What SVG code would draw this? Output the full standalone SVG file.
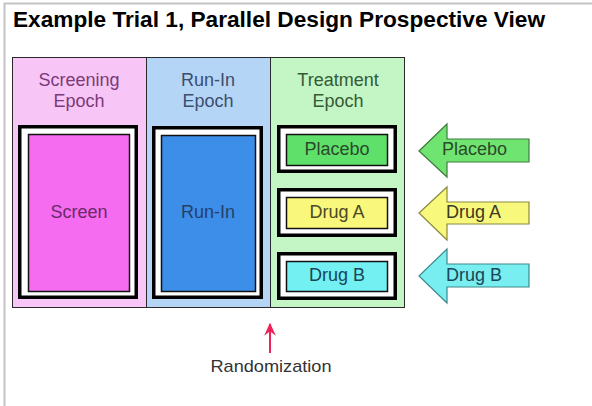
<svg xmlns="http://www.w3.org/2000/svg" width="592" height="406" viewBox="0 0 592 406">
<defs>
<style>
text{font-family:"Liberation Sans",Arial,sans-serif;}
.title{font-size:22px;font-weight:bold;fill:#000;}
.hdr{font-size:18px;text-anchor:middle;}
.lbl{font-size:18px;text-anchor:middle;}
.alb{font-size:18px;}
.col{stroke:#2a2a2a;stroke-width:1;}
.outer{fill:#fff;stroke:#000;stroke-width:3.5;}
.inner{stroke:#111;stroke-width:1.5;}
.arr{stroke-width:1.2;stroke-linejoin:miter;}
</style>
<marker id="rh" viewBox="0 0 10 10" refX="9" refY="5" markerWidth="13" markerHeight="13" markerUnits="userSpaceOnUse" orient="auto">
<path d="M0,0.5 L10,5 L0,9.5 L3.5,5 Z" fill="#f0205a"/>
</marker>
</defs>
<rect width="592" height="406" fill="#fff"/>
<path d="M4.5,406 V3.5 H592" fill="none" stroke="#c4c4c4" stroke-width="2"/>
<text class="title" x="13" y="27" textLength="532" lengthAdjust="spacingAndGlyphs">Example Trial 1, Parallel Design Prospective View</text>

<g id="screening-epoch">
<rect class="col" x="12.5" y="57.5" width="134" height="250" fill="#f8c6f6"/>
<text class="hdr" x="79" y="86" fill="#7a3a7a">Screening</text>
<text class="hdr" x="79" y="107" fill="#7a3a7a">Epoch</text>
</g>
<g id="runin-epoch">
<rect class="col" x="146.5" y="57.5" width="124" height="250" fill="#b5d5f6"/>
<text class="hdr" x="208" y="86" fill="#3a4e6e">Run-In</text>
<text class="hdr" x="208" y="107" fill="#3a4e6e">Epoch</text>
</g>
<g id="treatment-epoch">
<rect class="col" x="270.5" y="57.5" width="134" height="250" fill="#c4f5c4"/>
<text class="hdr" x="338" y="86" fill="#355a35">Treatment</text>
<text class="hdr" x="338" y="107" fill="#355a35">Epoch</text>
</g>

<g id="screen">
<rect class="outer" x="19.75" y="126.75" width="116.5" height="170.5"/>
<rect class="inner" x="28.5" y="134.5" width="101" height="157" fill="#f66cf0"/>
<text class="lbl" x="79" y="218" fill="#6a2a6a">Screen</text>
</g>
<g id="runin">
<rect class="outer" x="153.75" y="127.75" width="107.5" height="169.5"/>
<rect class="inner" x="161.5" y="135.5" width="94" height="156" fill="#3d8ee8"/>
<text class="lbl" x="208" y="218" fill="#253f6a">Run-In</text>
</g>
<g id="placebo">
<rect class="outer" x="278.75" y="126.75" width="116.5" height="44.5"/>
<rect class="inner" x="286.5" y="134.5" width="101" height="31" fill="#5fe06b"/>
<text class="lbl" x="337" y="155" fill="#2a4a2a">Placebo</text>
</g>
<g id="drug-a">
<rect class="outer" x="278.75" y="189.75" width="116.5" height="45.5"/>
<rect class="inner" x="286.5" y="197.5" width="101" height="31" fill="#f9f77c"/>
<text class="lbl" x="337" y="218" fill="#4a4a22">Drug A</text>
</g>
<g id="drug-b">
<rect class="outer" x="278.75" y="253.75" width="116.5" height="44.5"/>
<rect class="inner" x="286.5" y="261.5" width="101" height="30" fill="#72f0f2"/>
<text class="lbl" x="337" y="281" fill="#1a4658">Drug B</text>
</g>

<g id="placebo-arrow">
<path class="arr" d="M419,151 L447,124 L447,139 L529,139 L529,162 L447,162 L447,177 Z" fill="#70e470" stroke="#3f7a3f"/>
<text class="alb" x="442" y="155" fill="#2a4a2a">Placebo</text>
</g>
<g id="drug-a-arrow">
<path class="arr" d="M419,213 L447,187 L447,202 L529,202 L529,224 L447,224 L447,240 Z" fill="#f8f87c" stroke="#8a8a3e"/>
<text class="alb" x="446" y="218" fill="#3a3a22">Drug A</text>
</g>
<g id="drug-b-arrow">
<path class="arr" d="M419,276 L447,249 L447,264 L529,264 L529,287 L447,287 L447,303 Z" fill="#78eef0" stroke="#3e8a8c"/>
<text class="alb" x="446" y="281" fill="#1a4658">Drug B</text>
</g>

<g id="connectors">
<line x1="270" y1="353" x2="270" y2="324" stroke="#f0205a" stroke-width="2" marker-end="url(#rh)"/>
</g>
<g id="randomization">
<text x="271" y="372" font-size="17" text-anchor="middle" fill="#333" textLength="121" lengthAdjust="spacingAndGlyphs">Randomization</text>
</g>
</svg>
